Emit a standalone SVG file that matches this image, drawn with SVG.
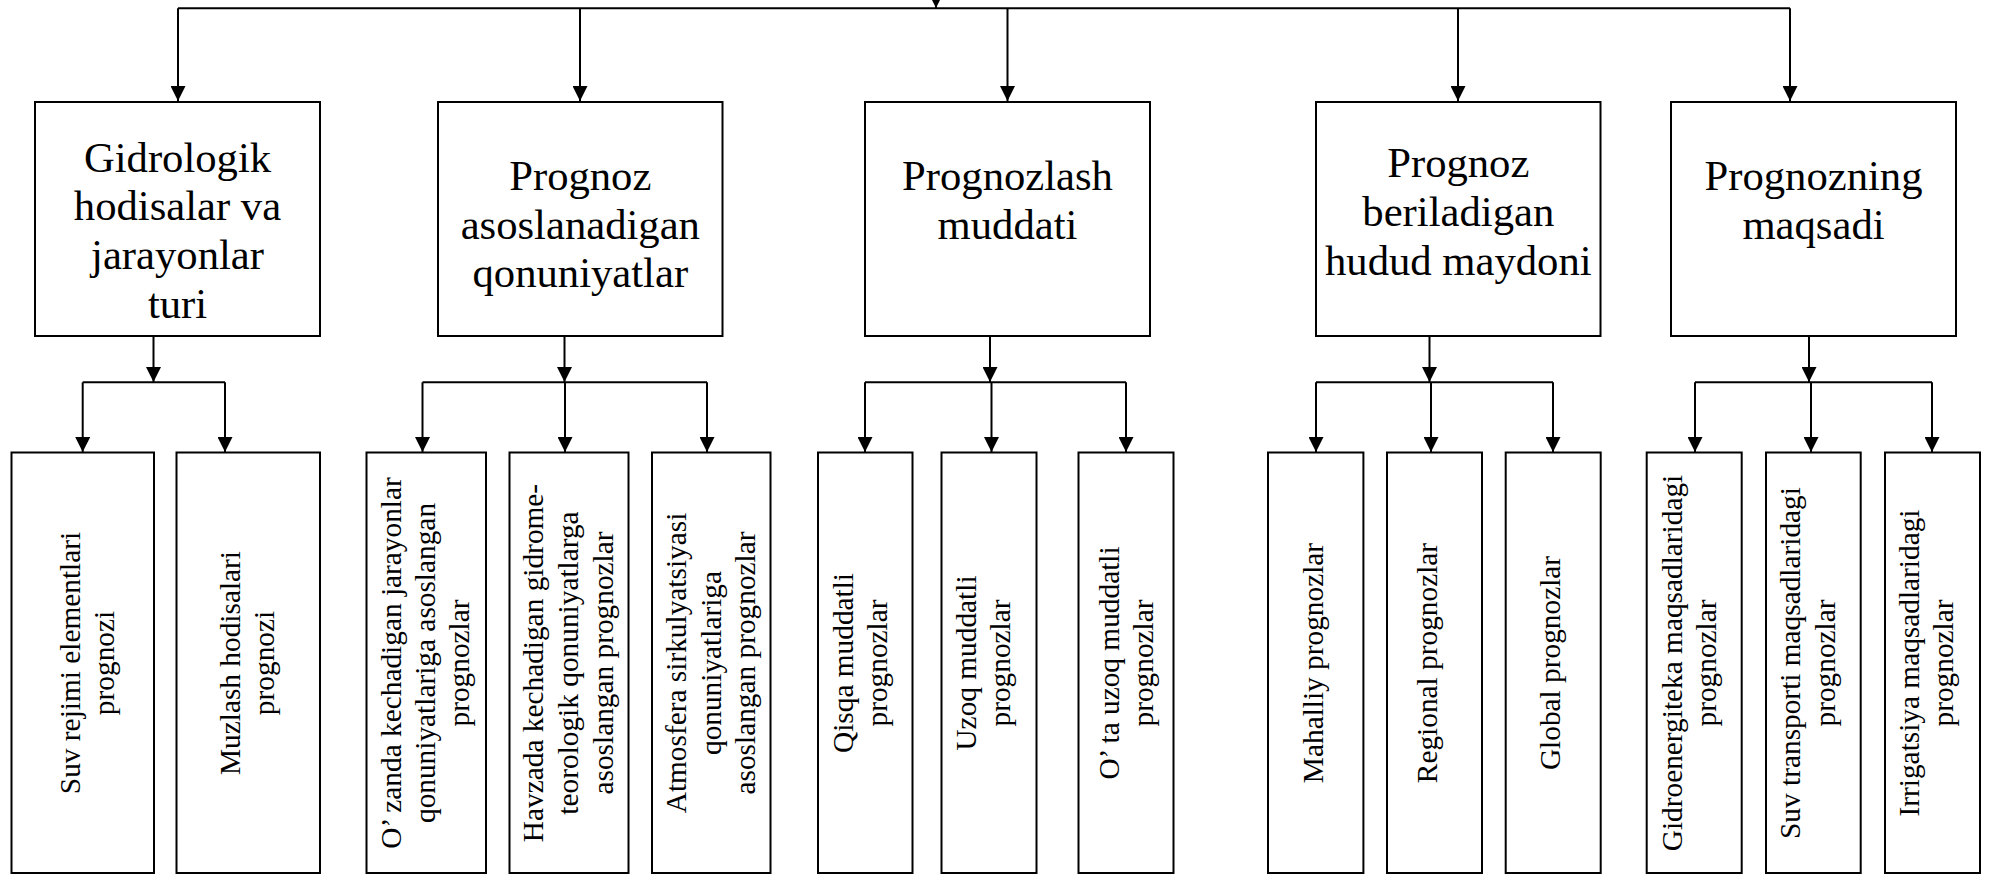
<svg xmlns="http://www.w3.org/2000/svg" width="1991" height="874" viewBox="0 0 1991 874">
<defs>
<marker id="ah" markerUnits="userSpaceOnUse" markerWidth="16" markerHeight="15" refX="15" refY="7.5" orient="auto">
<path d="M0,0 L15,7.5 L0,15 z" fill="#000"/>
</marker>
<style>
rect{fill:#fff;stroke:#000;stroke-width:2}
.c path{fill:none;stroke:#000;stroke-width:2}
.c path.a{marker-end:url(#ah)}
.t1{font-family:"Liberation Serif","Times New Roman",serif;font-size:42.67px;text-anchor:middle;fill:#000}
.t2{font-family:"Liberation Serif","Times New Roman",serif;font-size:29.33px;text-anchor:middle;fill:#000}
</style>
</defs>
<rect x="0" y="0" width="1991" height="874" style="fill:#fff;stroke:none"/>
<g class="c" id="connectors">
<path class="a" d="M936,-20 V8"/>
<path d="M178,8.3 H1790"/>
<path class="a" d="M178,8.3 V101"/>
<path class="a" d="M580,8.3 V101"/>
<path class="a" d="M1007.5,8.3 V101"/>
<path class="a" d="M1458,8.3 V101"/>
<path class="a" d="M1790,8.3 V101"/>
<path class="a" d="M153.5,336 V382"/>
<path d="M82.7,382.3 H225"/>
<path class="a" d="M82.7,382.3 V452"/>
<path class="a" d="M225,382.3 V452"/>
<path class="a" d="M564.5,336 V382"/>
<path d="M422.5,382.3 H707"/>
<path class="a" d="M422.5,382.3 V452"/>
<path class="a" d="M565,382.3 V452"/>
<path class="a" d="M707,382.3 V452"/>
<path class="a" d="M990,336 V382"/>
<path d="M865,382.3 H1126"/>
<path class="a" d="M865,382.3 V452"/>
<path class="a" d="M991.5,382.3 V452"/>
<path class="a" d="M1126,382.3 V452"/>
<path class="a" d="M1429.5,336 V382"/>
<path d="M1316,382.3 H1553"/>
<path class="a" d="M1316,382.3 V452"/>
<path class="a" d="M1431,382.3 V452"/>
<path class="a" d="M1553,382.3 V452"/>
<path class="a" d="M1809,336 V382"/>
<path d="M1695,382.3 H1932"/>
<path class="a" d="M1695,382.3 V452"/>
<path class="a" d="M1811,382.3 V452"/>
<path class="a" d="M1932,382.3 V452"/>
</g>
<g id="n1"><rect x="35" y="102" width="285" height="234"/>
<text class="t1" x="177.5" y="171.5">Gidrologik</text>
<text class="t1" x="177.5" y="220.3">hodisalar va</text>
<text class="t1" x="177.5" y="269.1">jarayonlar</text>
<text class="t1" x="177.5" y="318">turi</text></g>
<g id="n2"><rect x="438" y="102" width="284.5" height="234"/>
<text class="t1" x="580.3" y="190">Prognoz</text>
<text class="t1" x="580.3" y="238.6">asoslanadigan</text>
<text class="t1" x="580.3" y="287.3">qonuniyatlar</text></g>
<g id="n3"><rect x="865" y="102" width="285" height="234"/>
<text class="t1" x="1007.5" y="190">Prognozlash</text>
<text class="t1" x="1007.5" y="238.6">muddati</text></g>
<g id="n4"><rect x="1316" y="102" width="284.5" height="234"/>
<text class="t1" x="1458.3" y="176.7">Prognoz</text>
<text class="t1" x="1458.3" y="225.5">beriladigan</text>
<text class="t1" x="1458.3" y="275">hudud maydoni</text></g>
<g id="n5"><rect x="1671" y="102" width="285" height="234"/>
<text class="t1" x="1813.5" y="190">Prognozning</text>
<text class="t1" x="1813.5" y="238.6">maqsadi</text></g>

<g id="b1"><rect x="11.5" y="452.5" width="142.5" height="420.5"/>
<text class="t2" transform="translate(79.5,663) rotate(-90)">Suv rejimi elementlari</text>
<text class="t2" transform="translate(113.5,663) rotate(-90)">prognozi</text></g>
<g id="b2"><rect x="176.5" y="452.5" width="143.5" height="420.5"/>
<text class="t2" transform="translate(239.5,663) rotate(-90)">Muzlash hodisalari</text>
<text class="t2" transform="translate(273.5,663) rotate(-90)">prognozi</text></g>
<g id="b3"><rect x="366.5" y="452.5" width="119.5" height="420.5"/>
<text class="t2" transform="translate(400.5,663) rotate(-90)">O’ zanda kechadigan jarayonlar</text>
<text class="t2" transform="translate(435,663) rotate(-90)">qonuniyatlariga asoslangan</text>
<text class="t2" transform="translate(469,663) rotate(-90)">prognozlar</text></g>
<g id="b4"><rect x="509.5" y="452.5" width="119" height="420.5"/>
<text class="t2" transform="translate(543,663) rotate(-90)">Havzada kechadigan gidrome-</text>
<text class="t2" transform="translate(578,663) rotate(-90)">teorologik qonuniyatlarga</text>
<text class="t2" transform="translate(612.5,663) rotate(-90)">asoslangan prognozlar</text></g>
<g id="b5"><rect x="652" y="452.5" width="118.5" height="420.5"/>
<text class="t2" transform="translate(686,663) rotate(-90)">Atmosfera sirkulyatsiyasi</text>
<text class="t2" transform="translate(720.5,663) rotate(-90)">qonuniyatlariga</text>
<text class="t2" transform="translate(755,663) rotate(-90)">asoslangan prognozlar</text></g>
<g id="b6"><rect x="818" y="452.5" width="94.5" height="420.5"/>
<text class="t2" transform="translate(853,663) rotate(-90)">Qisqa muddatli</text>
<text class="t2" transform="translate(887,663) rotate(-90)">prognozlar</text></g>
<g id="b7"><rect x="941.5" y="452.5" width="95" height="420.5"/>
<text class="t2" transform="translate(976,663) rotate(-90)">Uzoq muddatli</text>
<text class="t2" transform="translate(1010,663) rotate(-90)">prognozlar</text></g>
<g id="b8"><rect x="1078.5" y="452.5" width="95" height="420.5"/>
<text class="t2" transform="translate(1119,663) rotate(-90)">O’ ta uzoq muddatli</text>
<text class="t2" transform="translate(1153,663) rotate(-90)">prognozlar</text></g>
<g id="b9"><rect x="1268" y="452.5" width="95.4" height="420.5"/>
<text class="t2" transform="translate(1323,663) rotate(-90)">Mahalliy prognozlar</text></g>
<g id="b10"><rect x="1387" y="452.5" width="95" height="420.5"/>
<text class="t2" transform="translate(1437,663) rotate(-90)">Regional prognozlar</text></g>
<g id="b11"><rect x="1505.7" y="452.5" width="95" height="420.5"/>
<text class="t2" transform="translate(1559.5,663) rotate(-90)">Global prognozlar</text></g>
<g id="b12"><rect x="1646.7" y="452.5" width="95" height="420.5"/>
<text class="t2" transform="translate(1681.5,663) rotate(-90)">Gidroenergiteka maqsadlaridagi</text>
<text class="t2" transform="translate(1715.5,663) rotate(-90)">prognozlar</text></g>
<g id="b13"><rect x="1766" y="452.5" width="94.7" height="420.5"/>
<text class="t2" transform="translate(1800,663) rotate(-90)">Suv transporti maqsadlaridagi</text>
<text class="t2" transform="translate(1834.5,663) rotate(-90)">prognozlar</text></g>
<g id="b14"><rect x="1885" y="452.5" width="95" height="420.5"/>
<text class="t2" transform="translate(1918.5,663) rotate(-90)">Irrigatsiya maqsadlaridagi</text>
<text class="t2" transform="translate(1953,663) rotate(-90)">prognozlar</text></g>
</svg>
